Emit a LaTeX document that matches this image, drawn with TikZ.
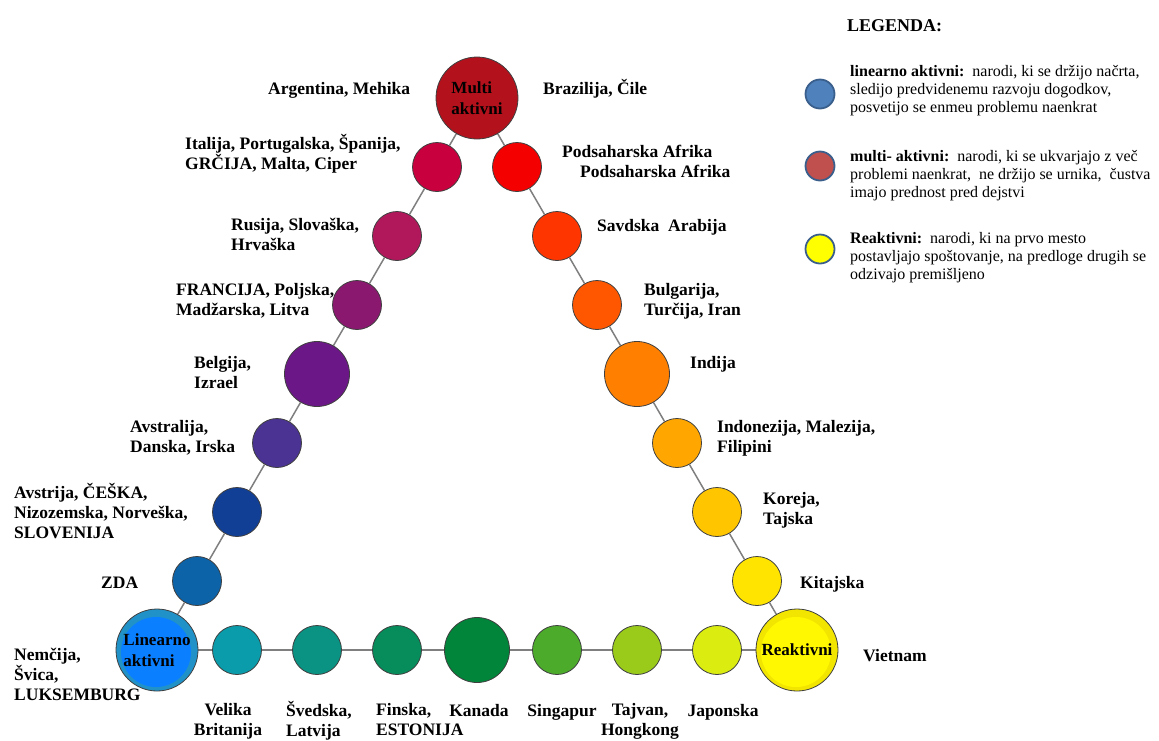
\documentclass[tikz,border=0pt]{standalone}
\usepackage{fontspec}
\setmainfont{Liberation Serif}
\usetikzlibrary{backgrounds}
\definecolor{cM}{HTML}{B3111C}
\definecolor{cLa}{HTML}{C8003E}
\definecolor{cLb}{HTML}{B1185C}
\definecolor{cLc}{HTML}{8A186E}
\definecolor{cLd}{HTML}{6B1787}
\definecolor{cLe}{HTML}{4A3392}
\definecolor{cLf}{HTML}{113F96}
\definecolor{cLg}{HTML}{0C63A8}
\definecolor{cLinO}{HTML}{2192C8}
\definecolor{cLinI}{HTML}{0A7FFF}
\definecolor{cBa}{HTML}{0A9CAA}
\definecolor{cBb}{HTML}{0A9282}
\definecolor{cBc}{HTML}{078C5C}
\definecolor{cBd}{HTML}{00853A}
\definecolor{cBe}{HTML}{4DAB2B}
\definecolor{cBf}{HTML}{9ACB1B}
\definecolor{cBg}{HTML}{DAEC10}
\definecolor{cReO}{HTML}{F2E600}
\definecolor{cReI}{HTML}{FFF800}
\definecolor{cRg}{HTML}{FFE400}
\definecolor{cRf}{HTML}{FFC600}
\definecolor{cRe}{HTML}{FFA600}
\definecolor{cRd}{HTML}{FF8000}
\definecolor{cRc}{HTML}{FF5700}
\definecolor{cRb}{HTML}{FF3500}
\definecolor{cRa}{HTML}{F50000}
\definecolor{cLink}{HTML}{7F7F7F}
\definecolor{cLegB}{HTML}{4F81BD}
\definecolor{cLegR}{HTML}{C0504D}
\definecolor{cLegY}{HTML}{FFFF00}
\definecolor{cLegE}{HTML}{3A5F8C}
\begin{document}
\begin{tikzpicture}[x=1pt,y=-1pt,
  ball/.style={circle, draw=black!75, line width=0.8pt, inner sep=0pt, minimum size=49pt},
  midball/.style={ball, minimum size=65pt},
  bigball/.style={ball, minimum size=82pt, align=left,
     font=\fontsize{17}{21}\selectfont\bfseries},
  lbl/.style={font=\fontsize{17.5}{20}\selectfont\bfseries, inner sep=0pt, align=left, anchor=west,
     execute at begin node=\strut, execute at end node=\strut},
  clbl/.style={lbl, anchor=center, align=center},
  link/.style={draw=cLink, line width=1.5pt},
  legball/.style={circle, draw=cLegE, line width=1.8pt, inner sep=0pt, minimum size=29pt},
  legtxt/.style={font=\fontsize{16}{18}\selectfont, inner sep=0pt, align=left, anchor=west,
     execute at begin node=\strut, execute at end node=\strut}
]
\useasboundingbox (0,0) rectangle (1159,740);

% circles
\node[bigball, fill=cM] (M) at (477,98) {Multi\\aktivni};
\node[ball, fill=cLa] (L1) at (437,167) {};
\node[ball, fill=cLb] (L2) at (397,236) {};
\node[ball, fill=cLc] (L3) at (357,305) {};
\node[midball, fill=cLd] (L4) at (317,374) {};
\node[ball, fill=cLe] (L5) at (277,443) {};
\node[ball, fill=cLf] (L6) at (237,512) {};
\node[ball, fill=cLg] (L7) at (197,581) {};
\node[bigball, fill=cLinO, path picture={\fill[cLinI] ([xshift=-1pt,yshift=-2pt]path picture bounding box.center) circle (35pt);}] (Lin) at (157,650) {Linearno\\aktivni};
\node[ball, fill=cBa] (B1) at (237,650) {};
\node[ball, fill=cBb] (B2) at (317,650) {};
\node[ball, fill=cBc] (B3) at (397,650) {};
\node[midball, fill=cBd] (B4) at (477,650) {};
\node[ball, fill=cBe] (B5) at (557,650) {};
\node[ball, fill=cBf] (B6) at (637,650) {};
\node[ball, fill=cBg] (B7) at (717,650) {};
\node[bigball, fill=cReO, path picture={\fill[cReI] ([xshift=-1pt,yshift=-2pt]path picture bounding box.center) circle (35pt);}] (Rea) at (797,650) {Reaktivni};
\node[ball, fill=cRg] (R7) at (757,581) {};
\node[ball, fill=cRf] (R6) at (717,512) {};
\node[ball, fill=cRe] (R5) at (677,443) {};
\node[midball, fill=cRd] (R4) at (637,374) {};
\node[ball, fill=cRc] (R3) at (597,305) {};
\node[ball, fill=cRb] (R2) at (557,236) {};
\node[ball, fill=cRa] (R1) at (517,167) {};

% connectors
\begin{scope}[on background layer]
\draw[link] (M) -- (L1) -- (L2) -- (L3) -- (L4) -- (L5) -- (L6) -- (L7) -- (Lin);
\draw[link] (Lin) -- (B1) -- (B2) -- (B3) -- (B4) -- (B5) -- (B6) -- (B7) -- (Rea);
\draw[link] (Rea) -- (R7) -- (R6) -- (R5) -- (R4) -- (R3) -- (R2) -- (R1) -- (M);
\end{scope}

% labels
\node[lbl] (tArg) at (268,90) {Argentina, Mehika};
\node[lbl] (tBra) at (543,90) {Brazilija, Čile};
\node[lbl] (tIta) at (185,155) {Italija, Portugalska, Španija,\\GRČIJA, Malta, Ciper};
\node[lbl] (tPod) at (562,164) {Podsaharska Afrika\\\hspace*{18pt}Podsaharska Afrika};
\node[lbl] (tRus) at (231,237) {Rusija, Slovaška,\\Hrvaška};
\node[lbl] (tFra) at (176,302) {FRANCIJA, Poljska,\\Madžarska, Litva};
\node[lbl] (tBel) at (194,375) {Belgija,\\Izrael};
\node[lbl] (tAvl) at (130,439) {Avstralija,\\Danska, Irska};
\node[lbl] (tAvs) at (14,514) {Avstrija, ČEŠKA,\\Nizozemska, Norveška,\\SLOVENIJA};
\node[lbl] (tZDA) at (101,584) {ZDA};
\node[lbl] (tNem) at (14,677) {Nemčija,\\Švica,\\LUKSEMBURG};
\node[clbl] (tVel) at (228,722) {Velika\\Britanija};
\node[lbl] (tSve) at (286,722) {Švedska,\\Latvija};
\node[lbl] (tFin) at (376,722) {Finska,\\ESTONIJA};
\node[clbl] (tKan) at (479,712) {Kanada};
\node[clbl] (tSin) at (562,712) {Singapur};
\node[clbl] (tTaj) at (640,722) {Tajvan,\\Hongkong};
\node[clbl] (tJap) at (723,712) {Japonska};
\node[lbl] (tVie) at (863,657) {Vietnam};
\node[lbl] (tKit) at (800,584) {Kitajska};
\node[lbl] (tKor) at (763,511) {Koreja,\\Tajska};
\node[lbl] (tInd) at (717,439) {Indonezija, Malezija,\\Filipini};
\node[lbl] (tIdj) at (690,364) {Indija};
\node[lbl] (tBul) at (644,302) {Bulgarija,\\Turčija, Iran};
\node[lbl] (tSav) at (597,227) {Savdska\ \ Arabija};

% legend
\node[lbl, font=\fontsize{18}{20}\selectfont\bfseries] (tLeg) at (847,27) {LEGENDA:};
\node[legball, fill=cLegB] (gB) at (820,94) {};
\node[legball, fill=cLegR] (gR) at (820,166) {};
\node[legball, fill=cLegY] (gY) at (820,249) {};
\node[legtxt] (xB) at (850,92) {\textbf{linearno aktivni:}\ \ narodi, ki se držijo načrta,\\sledijo predvidenemu razvoju dogodkov,\\posvetijo se enmeu problemu naenkrat};
\node[legtxt] (xR) at (850,177) {\textbf{multi- aktivni:}\ \ narodi, ki se ukvarjajo z več\\problemi naenkrat,\ \ ne držijo se urnika,\ \ čustva\\imajo prednost pred dejstvi};
\node[legtxt] (xY) at (850,259) {\textbf{Reaktivni:}\ \ narodi, ki na prvo mesto\\postavljajo spoštovanje, na predloge drugih se\\odzivajo premišljeno};
\end{tikzpicture}
\end{document}
